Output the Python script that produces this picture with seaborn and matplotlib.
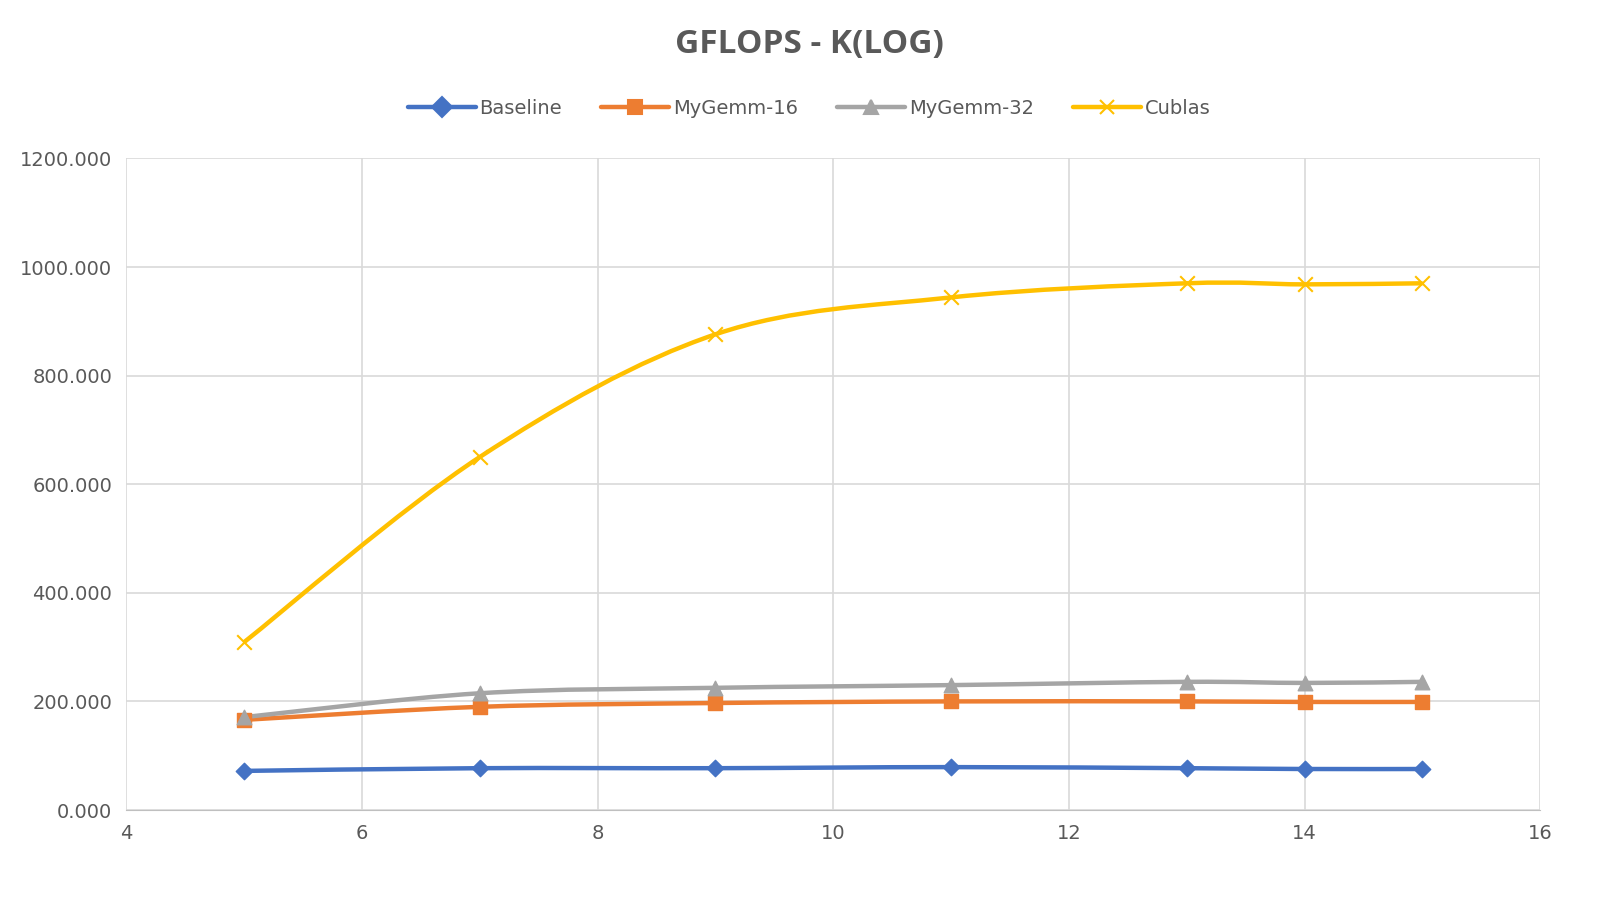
import numpy as np
import pandas as pd
import seaborn as sns
import matplotlib.pyplot as plt
from matplotlib.path import Path
from matplotlib.patches import PathPatch

k_log = [5, 7, 9, 11, 13, 14, 15]
baseline = [72, 77, 77, 79, 77, 75.5, 75.5]
mygemm16 = [166, 190, 197, 200, 200, 199, 199]
mygemm32 = [171, 215, 225, 230, 236, 234, 236]
cublas = [309, 650, 876, 944, 970, 968, 970]

series = {'Baseline': baseline, 'MyGemm-16': mygemm16,
          'MyGemm-32': mygemm32, 'Cublas': cublas}
colors = ['#4472C4', '#ED7D31', '#A5A5A5', '#FFC000']
markers = ['D', 's', '^', 'x']
sizes = [70, 110, 110, 110]

sns.set_style('white')
fig = plt.figure(figsize=(16.18, 9), dpi=100)
ax = fig.add_axes([0.078, 0.1, 0.874, 0.724])


def smooth_path(xs, ys):
    # excel-like smoothed line: cubic bezier through the points
    pts = np.column_stack([xs, ys]).astype(float)
    verts = [pts[0]]
    codes = [Path.MOVETO]
    for i in range(len(pts) - 1):
        p0 = pts[max(i - 1, 0)]
        p1, p2 = pts[i], pts[i + 1]
        p3 = pts[min(i + 2, len(pts) - 1)]
        verts += [p1 + (p2 - p0) / 6, p2 - (p3 - p1) / 6, p2]
        codes += [Path.CURVE4] * 3
    return Path(verts, codes)


for (name, vals), c, mk, sz in zip(series.items(), colors, markers, sizes):
    ax.add_patch(PathPatch(smooth_path(k_log, vals), fill=False, edgecolor=c, lw=3.2, zorder=2))
    d = pd.DataFrame({'K': k_log, 'GFLOPS': vals})
    if mk == 'x':
        sns.scatterplot(data=d, x='K', y='GFLOPS', color=c, marker=mk, s=sz,
                        linewidth=1.5, ax=ax, zorder=3)
    else:
        sns.scatterplot(data=d, x='K', y='GFLOPS', color=c, marker=mk, s=sz,
                        edgecolor=c, linewidth=1, ax=ax, zorder=3)

handles = [plt.Line2D([], [], color=c, lw=3.2, marker=mk, markersize=10,
                      markeredgewidth=1.5) for c, mk in zip(colors, markers)]
fig.legend(handles, list(series.keys()), loc='center', bbox_to_anchor=(0.5, 0.88),
           ncol=4, frameon=False, fontsize=14, labelcolor='#595959',
           handlelength=3.5, handletextpad=0.2, columnspacing=2)

ax.set_xlim(4, 16)
ax.set_ylim(0, 1200)
ax.set_xticks(range(4, 17, 2))
ax.set_yticks(range(0, 1201, 200))
ax.set_yticklabels([f'{v:.3f}' for v in range(0, 1201, 200)])
ax.grid(True, color='#D9D9D9', lw=1.2)
ax.set_axisbelow(True)
for s in ['top', 'right', 'left']:
    ax.spines[s].set_visible(False)
ax.spines['bottom'].set_color('#BFBFBF')
ax.tick_params(colors='#595959', labelsize=14, length=0, pad=10)
ax.set_xlabel('')
ax.set_ylabel('')
fig.text(0.5, 0.95, 'GFLOPS - K(LOG)', ha='center', va='center', fontsize=24,
         fontweight='bold', color='#595959', fontfamily='Open Sans')

fig.savefig('out.png', dpi=100)
